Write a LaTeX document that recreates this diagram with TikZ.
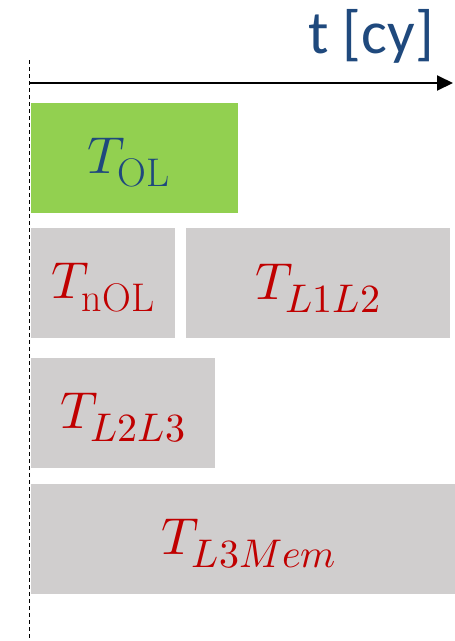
\documentclass[tikz,border=0pt]{standalone}
\usepackage{fontspec}
\usepackage{unicode-math}
\setmathfont{Latin Modern Math}
\DeclareMathSizes{52}{52}{40}{32}
\newfontfamily\axisfont{Carlito}
\usetikzlibrary{arrows.meta}
\definecolor{axisblue}{RGB}{31,73,125}
\definecolor{olgreen}{RGB}{146,208,80}
\definecolor{boxgray}{RGB}{208,206,206}
\definecolor{labred}{RGB}{192,0,0}
\tikzset{
  seg/.style={fill=boxgray, draw=none, inner sep=0pt, anchor=center},
  olseg/.style={seg, fill=olgreen},
  seglab/.style={inner sep=0pt, anchor=center, text=labred, font=\fontsize{52}{60}\selectfont},
  ollab/.style={seglab, text=axisblue},
}
\begin{document}
\begin{tikzpicture}[x=1pt,y=-1pt]
\useasboundingbox (0,0) rectangle (455,641);
\fill[white] (0,0) rectangle (455,641);
% axis
\coordinate (top) at (29.5,60);
\coordinate (bot) at (29.5,641);
\coordinate (ax0) at (29.5,83);
\coordinate (ax1) at (453,83);
\draw[line width=0.9pt, dash pattern=on 4pt off 3pt] (top) -- (bot);
\draw[line width=2pt, -{Triangle[length=16pt,width=15pt]}] (ax0) -- (ax1);
\node[anchor=base east, text=axisblue, font=\axisfont\fontsize{61}{70}\selectfont, inner sep=0pt] (tlab) at (434,53) {t [cy]};
% segments
\node[olseg, minimum width=207pt, minimum height=110pt] (ol) at (134.5,158) {};
\node[seg, minimum width=144pt, minimum height=110pt] (nol) at (103,283) {};
\node[seg, minimum width=264pt, minimum height=110pt] (l1l2) at (318,283) {};
\node[seg, minimum width=184pt, minimum height=110pt] (l2l3) at (123,413) {};
\node[seg, minimum width=424pt, minimum height=110pt] (l3mem) at (243,539) {};
% labels
\node[ollab] (olT) at ([xshift=-6pt,yshift=-5pt]ol.center) {$T_{\mathrm{OL}}$};
\node[seglab] (nolT) at ([yshift=-5pt]nol.center) {$T_{\mathrm{nOL}}$};
\node[seglab] (l1l2T) at ([yshift=-5pt]l1l2.center) {$T_{L1L2}$};
\node[seglab] (l2l3T) at ([yshift=-5pt]l2l3.center) {$T_{L2L3}$};
\node[seglab] (l3memT) at ([xshift=6pt,yshift=-5pt]l3mem.center) {$T_{L3Mem}$};
\end{tikzpicture}
\end{document}
